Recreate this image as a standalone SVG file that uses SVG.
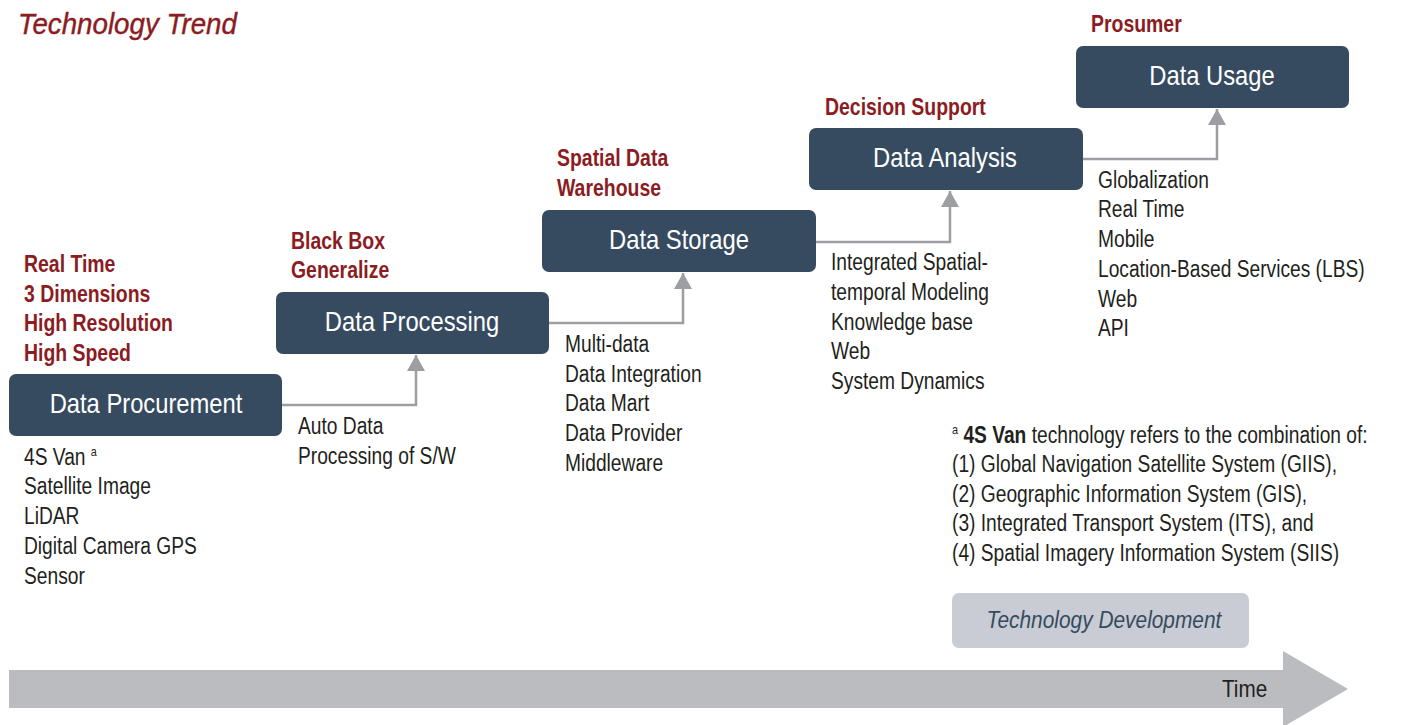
<svg xmlns="http://www.w3.org/2000/svg" width="1401" height="725" viewBox="0 0 1401 725">
  <style>
    text { font-family: "Liberation Sans", Arial, sans-serif; }
    .title { font-size: 30px; font-style: italic; fill: #8B1C22; stroke: #8B1C22; stroke-width: 0.4; }
    .node rect { fill: #364B5F; }
    .node text { font-size: 27px; fill: #FFFFFF; text-anchor: middle; }
    .red { font-size: 23px; font-weight: bold; fill: #8B1C22; }
    .body { font-size: 23px; fill: #231F20; }
    .sup { font-size: 13px; }
    .conn { fill: none; stroke: #9D9EA2; stroke-width: 2.5; }
    .dev rect { fill: #C9CCD4; }
    .dev text { font-size: 24px; font-style: italic; fill: #364B5F; text-anchor: middle; }
    .time { font-size: 23px; fill: #231F20; }
  </style>
  <defs>
    <marker id="arrow" viewBox="0 0 16 18" refX="16" refY="9" markerWidth="16" markerHeight="18" markerUnits="userSpaceOnUse" orient="auto">
      <path d="M0,0 L16,9 L0,18 z" fill="#9D9EA2"/>
    </marker>
  </defs>

  <rect width="1401" height="725" fill="#FFFFFF"/>

  <!-- heading (horizontally condensed type) -->
  <text class="title" transform="translate(18,34) scale(0.925,1)">Technology Trend</text>

  <!-- time axis -->
  <g id="time-axis">
    <path d="M9,670 H1283 V651 L1348,689 L1283,727 V708 H9 Z" fill="#BBBCC0"/>
    <text class="time" transform="translate(1222,697) scale(0.9,1)">Time</text>
  </g>

  <!-- connectors -->
  <g id="connectors">
    <path class="conn" d="M282,405 H416 V355" marker-end="url(#arrow)"/>
    <path class="conn" d="M549,323 H683 V273" marker-end="url(#arrow)"/>
    <path class="conn" d="M816,242 H950 V191" marker-end="url(#arrow)"/>
    <path class="conn" d="M1083,159 H1217 V109" marker-end="url(#arrow)"/>
  </g>

  <!-- stages -->
  <g id="data-procurement" class="node">
    <rect x="9" y="374" width="273" height="62" rx="7"/>
    <text transform="translate(146,413) scale(0.88,1)">Data Procurement</text>
  </g>
  <g id="data-processing" class="node">
    <rect x="276" y="292" width="273" height="62" rx="7"/>
    <text transform="translate(412,331) scale(0.88,1)">Data Processing</text>
  </g>
  <g id="data-storage" class="node">
    <rect x="542" y="210" width="274" height="62" rx="7"/>
    <text transform="translate(679,249) scale(0.88,1)">Data Storage</text>
  </g>
  <g id="data-analysis" class="node">
    <rect x="809" y="128" width="274" height="62" rx="7"/>
    <text transform="translate(945,167) scale(0.88,1)">Data Analysis</text>
  </g>
  <g id="data-usage" class="node">
    <rect x="1076" y="46" width="273" height="62" rx="7"/>
    <text transform="translate(1212,85) scale(0.88,1)">Data Usage</text>
  </g>

  <!-- trend labels, one column per stage -->
  <g id="trend-labels" class="red">
    <g transform="translate(24,0) scale(0.845,1)">
      <text x="0" y="272">Real Time</text>
      <text x="0" y="302">3 Dimensions</text>
      <text x="0" y="331">High Resolution</text>
      <text x="0" y="361">High Speed</text>
    </g>
    <g transform="translate(291,0) scale(0.845,1)">
      <text x="0" y="249">Black Box</text>
      <text x="0" y="278">Generalize</text>
    </g>
    <g transform="translate(557,0) scale(0.845,1)">
      <text x="0" y="166">Spatial Data</text>
      <text x="0" y="196">Warehouse</text>
    </g>
    <g transform="translate(825,0) scale(0.845,1)">
      <text x="0" y="115">Decision Support</text>
    </g>
    <g transform="translate(1091,0) scale(0.845,1)">
      <text x="0" y="32">Prosumer</text>
    </g>
  </g>

  <!-- stage details -->
  <g id="details" class="body">
    <g transform="translate(24,0) scale(0.835,1)">
      <text x="0" y="465">4S Van <tspan class="sup" dy="-9">a</tspan></text>
      <text x="0" y="494">Satellite Image</text>
      <text x="0" y="524">LiDAR</text>
      <text x="0" y="554">Digital Camera GPS</text>
      <text x="0" y="584">Sensor</text>
    </g>
    <g transform="translate(298,0) scale(0.835,1)">
      <text x="0" y="434">Auto Data</text>
      <text x="0" y="464">Processing of S/W</text>
    </g>
    <g transform="translate(565,0) scale(0.835,1)">
      <text x="0" y="352">Multi-data</text>
      <text x="0" y="382">Data Integration</text>
      <text x="0" y="411">Data Mart</text>
      <text x="0" y="441">Data Provider</text>
      <text x="0" y="471">Middleware</text>
    </g>
    <g transform="translate(831,0) scale(0.835,1)">
      <text x="0" y="270">Integrated Spatial-</text>
      <text x="0" y="300">temporal Modeling</text>
      <text x="0" y="330">Knowledge base</text>
      <text x="0" y="359">Web</text>
      <text x="0" y="389">System Dynamics</text>
    </g>
    <g transform="translate(1098,0) scale(0.835,1)">
      <text x="0" y="188">Globalization</text>
      <text x="0" y="217">Real Time</text>
      <text x="0" y="247">Mobile</text>
      <text x="0" y="277">Location-Based Services (LBS)</text>
      <text x="0" y="307">Web</text>
      <text x="0" y="336">API</text>
    </g>
  </g>

  <!-- footnote -->
  <g id="footnote" class="body" transform="translate(952,0) scale(0.835,1)">
    <text x="0" y="443"><tspan class="sup" dy="-9">a</tspan><tspan dy="9" font-weight="bold"> 4S Van</tspan> technology refers to the combination of:</text>
    <text x="0" y="472">(1) Global Navigation Satellite System (GIIS),</text>
    <text x="0" y="502">(2) Geographic Information System (GIS),</text>
    <text x="0" y="531">(3) Integrated Transport System (ITS), and</text>
    <text x="0" y="561">(4) Spatial Imagery Information System (SIIS)</text>
  </g>

  <!-- legend -->
  <g id="technology-development" class="dev">
    <rect x="952" y="593" width="297" height="55" rx="7"/>
    <text transform="translate(1104,628) scale(0.87,1)">Technology Development</text>
  </g>
</svg>
